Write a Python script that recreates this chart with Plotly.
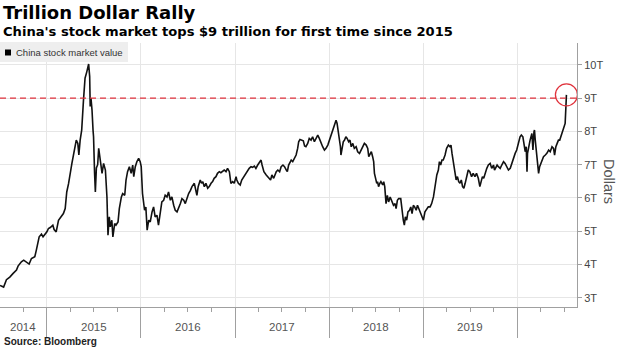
import pandas as pd
import plotly.graph_objects as go

# ---------------- data ----------------
d2014 = ["2014-07-03", "2014-07-17", "2014-07-28", "2014-08-10", "2014-08-23", "2014-09-05",
         "2014-09-11", "2014-09-24", "2014-10-03", "2014-10-13", "2014-10-24", "2014-11-02",
         "2014-11-15", "2014-11-21", "2014-12-02", "2014-12-11", "2014-12-17"]
v2014 = [3.37, 3.32, 3.54, 3.62, 3.73, 3.83,
         3.95, 4.08, 4.13, 4.06, 4.01, 4.18,
         4.23, 4.43, 4.83, 4.91, 4.83]

d2015 = ["2015-01-01", "2015-01-07", "2015-01-14", "2015-01-24", "2015-01-29", "2015-02-06",
         "2015-02-15", "2015-02-28", "2015-03-06", "2015-03-13", "2015-03-19", "2015-03-26",
         "2015-04-01", "2015-04-08", "2015-04-14", "2015-04-25", "2015-05-01", "2015-05-05",
         "2015-05-10", "2015-05-16", "2015-05-23", "2015-05-29", "2015-06-05", "2015-06-12",
         "2015-06-16", "2015-06-18", "2015-06-21", "2015-06-25", "2015-06-29", "2015-07-01",
         "2015-07-05", "2015-07-08", "2015-07-12", "2015-07-17", "2015-07-21", "2015-07-27",
         "2015-08-03", "2015-08-09", "2015-08-16", "2015-08-22", "2015-08-26", "2015-08-31",
         "2015-09-04", "2015-09-10", "2015-09-14", "2015-09-21", "2015-09-26", "2015-10-04",
         "2015-10-09", "2015-10-17", "2015-10-22", "2015-10-30", "2015-11-04", "2015-11-10",
         "2015-11-17", "2015-11-24", "2015-11-30", "2015-12-04", "2015-12-10", "2015-12-16",
         "2015-12-23", "2015-12-29"]
v2015 = [4.98, 5.08, 5.11, 5.18, 5.05, 4.98,
         5.33, 5.48, 5.53, 5.68, 6.18, 6.43,
         6.79, 7.04, 7.29, 7.74, 7.64, 7.29,
         7.74, 8.04, 8.95, 9.60, 9.80, 10.03,
         9.65, 8.75, 9.00, 8.65, 8.04, 7.84,
         6.74, 6.18, 6.90, 7.00, 7.49, 7.14,
         6.74, 7.04, 6.84, 6.03, 4.88, 5.43,
         5.13, 5.33, 4.83, 5.23, 5.18, 5.28,
         5.68, 6.03, 6.13, 6.08, 6.54, 6.79,
         6.94, 6.74, 6.99, 6.64, 6.94, 7.09,
         7.19, 7.09]

d2016 = ["2016-01-02", "2016-01-07", "2016-01-15", "2016-01-20", "2016-01-25", "2016-01-31",
         "2016-02-06", "2016-02-13", "2016-02-19", "2016-02-25", "2016-03-03", "2016-03-09",
         "2016-03-16", "2016-03-22", "2016-03-29", "2016-04-04", "2016-04-11", "2016-04-17",
         "2016-04-24", "2016-04-30", "2016-05-07", "2016-05-13", "2016-05-20", "2016-05-26",
         "2016-06-02", "2016-06-08", "2016-06-15", "2016-06-21", "2016-06-28", "2016-07-04",
         "2016-07-11", "2016-07-17", "2016-07-26", "2016-08-01", "2016-08-05", "2016-08-10",
         "2016-08-18", "2016-08-23", "2016-08-28", "2016-09-03", "2016-09-09", "2016-09-16",
         "2016-09-22", "2016-09-29", "2016-10-05", "2016-10-11", "2016-10-18", "2016-10-24",
         "2016-10-31", "2016-11-06", "2016-11-13", "2016-11-19", "2016-11-26", "2016-12-02",
         "2016-12-09", "2016-12-15", "2016-12-22", "2016-12-28"]
v2016 = [6.94, 6.13, 5.63, 5.73, 5.03, 5.33,
         5.28, 5.58, 5.73, 5.43, 5.48, 5.18,
         5.53, 5.88, 5.93, 6.08, 6.03, 6.18,
         5.93, 6.03, 5.78, 5.63, 5.58, 5.68,
         5.83, 5.98, 5.93, 5.83, 6.03, 6.13,
         6.23, 6.34, 6.44, 6.24, 6.08, 6.34,
         6.54, 6.44, 6.49, 6.34, 6.44, 6.29,
         6.34, 6.44, 6.49, 6.59, 6.64, 6.74,
         6.79, 6.76, 6.82, 6.84, 6.79, 6.89,
         6.79, 6.44, 6.49, 6.44]

d2017 = ["2017-01-04", "2017-01-07", "2017-01-13", "2017-01-20", "2017-01-26", "2017-02-03",
         "2017-02-12", "2017-02-18", "2017-02-24", "2017-03-03", "2017-03-09", "2017-03-16",
         "2017-03-22", "2017-03-29", "2017-04-05", "2017-04-11", "2017-04-15", "2017-04-22",
         "2017-05-01", "2017-05-07", "2017-05-18", "2017-05-23", "2017-05-30", "2017-06-09",
         "2017-06-15", "2017-06-22", "2017-06-28", "2017-07-05", "2017-07-11", "2017-07-18",
         "2017-07-22", "2017-07-27", "2017-08-01", "2017-08-06", "2017-08-12", "2017-08-18",
         "2017-08-25", "2017-08-31", "2017-09-04", "2017-09-09", "2017-09-17", "2017-09-22",
         "2017-09-27", "2017-10-02", "2017-10-09", "2017-10-15", "2017-10-22", "2017-10-28",
         "2017-11-04", "2017-11-10", "2017-11-17", "2017-11-23", "2017-11-30", "2017-12-06",
         "2017-12-13", "2017-12-19", "2017-12-26"]
v2017 = [6.64, 6.54, 6.44, 6.39, 6.54, 6.64,
         6.74, 6.79, 6.89, 6.94, 6.92, 6.96,
         6.89, 6.99, 7.06, 7.14, 6.99, 6.79,
         6.69, 6.64, 6.54, 6.69, 6.59, 6.79,
         6.84, 6.79, 6.94, 6.99, 6.94, 6.84,
         6.79, 6.99, 7.09, 7.14, 7.09, 7.19,
         7.29, 7.49, 7.69, 7.76, 7.74, 7.72,
         7.56, 7.54, 7.64, 7.79, 7.74, 7.84,
         7.69, 7.79, 7.89, 7.79, 7.64, 7.54,
         7.44, 7.49, 7.59]

d2018 = ["2018-01-01", "2018-01-07", "2018-01-14", "2018-01-20", "2018-01-27", "2018-01-31",
         "2018-02-04", "2018-02-09", "2018-02-13", "2018-02-15", "2018-02-19", "2018-02-24",
         "2018-03-01", "2018-03-06", "2018-03-11", "2018-03-17", "2018-03-22", "2018-03-27",
         "2018-04-02", "2018-04-08", "2018-04-15", "2018-04-21", "2018-04-28", "2018-05-04",
         "2018-05-11", "2018-05-17", "2018-05-24", "2018-05-30", "2018-06-03", "2018-06-08",
         "2018-06-13", "2018-06-18", "2018-06-22", "2018-06-25", "2018-06-28", "2018-07-04",
         "2018-07-07", "2018-07-11", "2018-07-16", "2018-07-20", "2018-07-27", "2018-07-31",
         "2018-08-04", "2018-08-09", "2018-08-14", "2018-08-19", "2018-08-25", "2018-08-31",
         "2018-09-07", "2018-09-13", "2018-09-17", "2018-09-22", "2018-09-27", "2018-10-05",
         "2018-10-10", "2018-10-15", "2018-10-19", "2018-10-23", "2018-10-28", "2018-11-02",
         "2018-11-08", "2018-11-13", "2018-11-18", "2018-11-23", "2018-11-28", "2018-12-04",
         "2018-12-09", "2018-12-14", "2018-12-19", "2018-12-26"]
v2018 = [7.74, 7.84, 7.99, 8.14, 8.34, 8.24,
         8.04, 7.74, 7.54, 7.29, 7.54, 7.69,
         7.74, 7.84, 7.79, 7.69, 7.74, 7.54,
         7.64, 7.49, 7.54, 7.39, 7.34, 7.44,
         7.54, 7.64, 7.59, 7.49, 7.24, 7.34,
         7.39, 7.24, 7.09, 6.74, 6.64, 6.44,
         6.49, 6.34, 6.44, 6.49, 6.39, 6.49,
         6.34, 5.83, 6.08, 5.88, 6.03, 5.93,
         5.78, 5.83, 5.68, 5.93, 5.98, 5.98,
         5.53, 5.33, 5.18, 5.43, 5.33, 5.58,
         5.63, 5.73, 5.53, 5.78, 5.73, 5.63,
         5.78, 5.68, 5.53, 5.43]

d2019 = ["2019-01-01", "2019-01-07", "2019-01-14", "2019-01-20", "2019-01-27", "2019-02-02",
         "2019-02-09", "2019-02-13", "2019-02-17", "2019-02-22", "2019-02-28", "2019-03-04",
         "2019-03-09", "2019-03-14", "2019-03-19", "2019-03-26", "2019-04-01", "2019-04-08",
         "2019-04-14", "2019-04-18", "2019-04-22", "2019-04-27", "2019-05-04", "2019-05-08",
         "2019-05-13", "2019-05-18", "2019-05-23", "2019-05-28", "2019-06-02", "2019-06-07",
         "2019-06-12", "2019-06-17", "2019-06-24", "2019-06-30", "2019-07-07", "2019-07-13",
         "2019-07-20", "2019-07-26", "2019-08-02", "2019-08-08", "2019-08-13", "2019-08-18",
         "2019-08-23", "2019-08-28", "2019-09-04", "2019-09-10", "2019-09-17", "2019-09-23",
         "2019-09-30", "2019-10-04", "2019-10-09", "2019-10-14", "2019-10-19", "2019-10-26",
         "2019-11-01", "2019-11-08", "2019-11-14", "2019-11-21", "2019-11-27", "2019-12-04",
         "2019-12-10", "2019-12-16", "2019-12-23", "2019-12-29"]
v2019 = [5.33, 5.58, 5.68, 5.73, 5.73, 5.83,
         6.03, 6.23, 6.44, 6.69, 6.84, 7.09,
         6.99, 7.14, 7.14, 7.29, 7.49, 7.59,
         7.54, 7.59, 7.34, 7.04, 6.74, 6.54,
         6.64, 6.49, 6.44, 6.54, 6.34, 6.29,
         6.44, 6.64, 6.84, 6.79, 6.64, 6.74,
         6.64, 6.74, 6.59, 6.34, 6.54, 6.64,
         6.59, 6.74, 6.89, 6.99, 7.04, 6.89,
         6.99, 6.84, 6.94, 6.99, 6.94, 6.89,
         6.99, 7.09, 7.04, 6.94, 6.84, 6.89,
         7.04, 7.24, 7.34, 7.44]

d2020 = ["2020-01-05", "2020-01-11", "2020-01-16", "2020-01-22", "2020-01-26", "2020-01-31",
         "2020-02-04", "2020-02-07", "2020-02-09", "2020-02-13", "2020-02-19", "2020-02-26",
         "2020-03-01", "2020-03-05", "2020-03-07", "2020-03-10", "2020-03-14", "2020-03-18",
         "2020-03-20", "2020-03-23", "2020-03-27", "2020-03-31", "2020-04-05", "2020-04-11",
         "2020-04-18", "2020-04-24", "2020-05-01", "2020-05-07", "2020-05-14", "2020-05-20",
         "2020-05-24", "2020-05-29", "2020-06-03", "2020-06-08", "2020-06-13", "2020-06-19",
         "2020-06-24", "2020-06-29", "2020-07-04", "2020-07-07", "2020-07-09"]
v2020 = [7.64, 7.84, 7.89, 7.84, 7.64, 7.39,
         7.54, 6.79, 7.34, 7.54, 7.74, 7.94,
         7.44, 7.99, 8.04, 7.74, 7.44, 7.14,
         6.99, 6.74, 6.94, 7.04, 7.09, 7.24,
         7.29, 7.34, 7.44, 7.39, 7.54, 7.49,
         7.29, 7.54, 7.64, 7.74, 7.74, 7.89,
         8.04, 8.09, 8.24, 8.75, 9.10]

year_labels = ["2014", "2015", "2016", "2017", "2018", "2019"]
year_starts = ["2015-01-01", "2016-01-01", "2017-01-01", "2018-01-01", "2019-01-01", "2020-01-01"]
y_ticks = [3, 4, 5, 6, 7, 8, 9, 10]
y_tick_text = ["3T", "4T", "5T", "6T", "7T", "8T", "9T", "10T"]
threshold = 9
series_name = "China stock market value"
title_text = "Trillion Dollar Rally"
subtitle_text = "China's stock market tops $9 trillion for first time since 2015"
source_text = "Source: Bloomberg"
axis_title = "Dollars"
x_start, x_end = "2014-07-03", "2020-08-19"

dates = d2014 + d2015 + d2016 + d2017 + d2018 + d2019 + d2020
values = v2014 + v2015 + v2016 + v2017 + v2018 + v2019 + v2020

# ---------------- layout geometry ----------------
W, H = 620, 348
L, R, T, B = 0, 43, 43, 41
PW, PH = W - L - R, H - T - B


def px(x):
    return (x - L) / PW


def py(y):
    return (H - B - y) / PH


FONT = "Liberation Sans, Arial, sans-serif"
HEAD = "DejaVu Sans, Liberation Sans, sans-serif"
RED = "#e0323c"
GRID = "#e6e6e6"
AX = "#a0a0a0"

fig = go.Figure()
fig.add_trace(go.Scatter(x=dates, y=values, mode="lines", name=series_name,
                         line=dict(color="#111111", width=1.6), showlegend=False,
                         hoverinfo="skip"))

# threshold line and highlight circle
fig.add_shape(type="line", xref="paper", x0=0, x1=1, yref="y", y0=threshold, y1=threshold,
              line=dict(color=RED, width=1.2, dash="6px,4px"))
fig.add_shape(type="circle", xref="x", yref="y", xsizemode="pixel", ysizemode="pixel",
              xanchor=dates[-1], yanchor=values[-1], x0=-11, x1=11, y0=-11, y1=11,
              line=dict(color=RED, width=1.3))

# legend box
fig.add_shape(type="rect", xref="paper", yref="paper", x0=px(0), x1=px(128), y0=py(62), y1=py(42),
              fillcolor="#eeeeee", line=dict(width=0), layer="above")
fig.add_shape(type="rect", xref="paper", yref="paper", x0=px(5), x1=px(11), y0=py(55.5), y1=py(49.5),
              fillcolor="#000000", line=dict(width=0), layer="above")

ann = []
ann.append(dict(text=series_name, x=px(13.5), y=py(52.5), xref="paper", yref="paper",
                xanchor="left", yanchor="middle", showarrow=False,
                font=dict(family=FONT, size=9.5, color="#333333")))
ann.append(dict(text="<b>" + title_text + "</b>", x=px(1), y=py(12), xref="paper", yref="paper",
                xanchor="left", yanchor="middle", showarrow=False,
                font=dict(family=HEAD, size=18, color="#000000")))
ann.append(dict(text="<b>" + subtitle_text + "</b>", x=px(1), y=py(31.5), xref="paper", yref="paper",
                xanchor="left", yanchor="middle", showarrow=False,
                font=dict(family=HEAD, size=13.1, color="#000000")))
ann.append(dict(text="<b>" + source_text + "</b>", x=px(2), y=py(341), xref="paper", yref="paper",
                xanchor="left", yanchor="middle", showarrow=False,
                font=dict(family=FONT, size=10, color="#222222")))
ann.append(dict(text=axis_title, x=px(609), y=py(181), xref="paper", yref="paper",
                xanchor="center", yanchor="middle", showarrow=False, textangle=90,
                font=dict(family=FONT, size=14.5, color="#555555")))

# year labels centred in each visible year segment
seg_starts = [pd.Timestamp(x_start)] + [pd.Timestamp(s) for s in year_starts[:-1]]
seg_ends = [pd.Timestamp(s) for s in year_starts]
for lab, s, e in zip(year_labels, seg_starts, seg_ends):
    mid = s + (e - s) / 2
    ann.append(dict(text=lab, x=mid.strftime("%Y-%m-%d"), y=py(327), xref="x", yref="paper",
                    xanchor="center", yanchor="middle", showarrow=False,
                    font=dict(family=FONT, size=11.5, color="#555555")))

fig.update_layout(
    width=W, height=H,
    margin=dict(l=L, r=R, t=T, b=B, pad=0),
    paper_bgcolor="white", plot_bgcolor="white",
    showlegend=False,
    annotations=ann,
    xaxis=dict(type="date", range=[x_start, x_end], tickvals=year_starts, showticklabels=False,
               ticks="outside", ticklen=30, tickcolor=AX, tickwidth=1,
               showgrid=True, gridcolor=GRID, gridwidth=1,
               showline=True, linecolor=AX, linewidth=1, zeroline=False,
               minor=dict(dtick="M3", tick0="2014-01-01", ticks="outside", ticklen=4,
                          tickcolor=AX, showgrid=False)),
    yaxis=dict(side="right", range=[2.72, 10.66], tickvals=y_ticks, ticktext=y_tick_text,
               ticks="outside", ticklen=4, tickcolor=AX, showline=True, linecolor=AX,
               showgrid=True, gridcolor=GRID, zeroline=False,
               tickfont=dict(family=FONT, size=11, color="#444444")),
)

fig.write_html("out.html")
